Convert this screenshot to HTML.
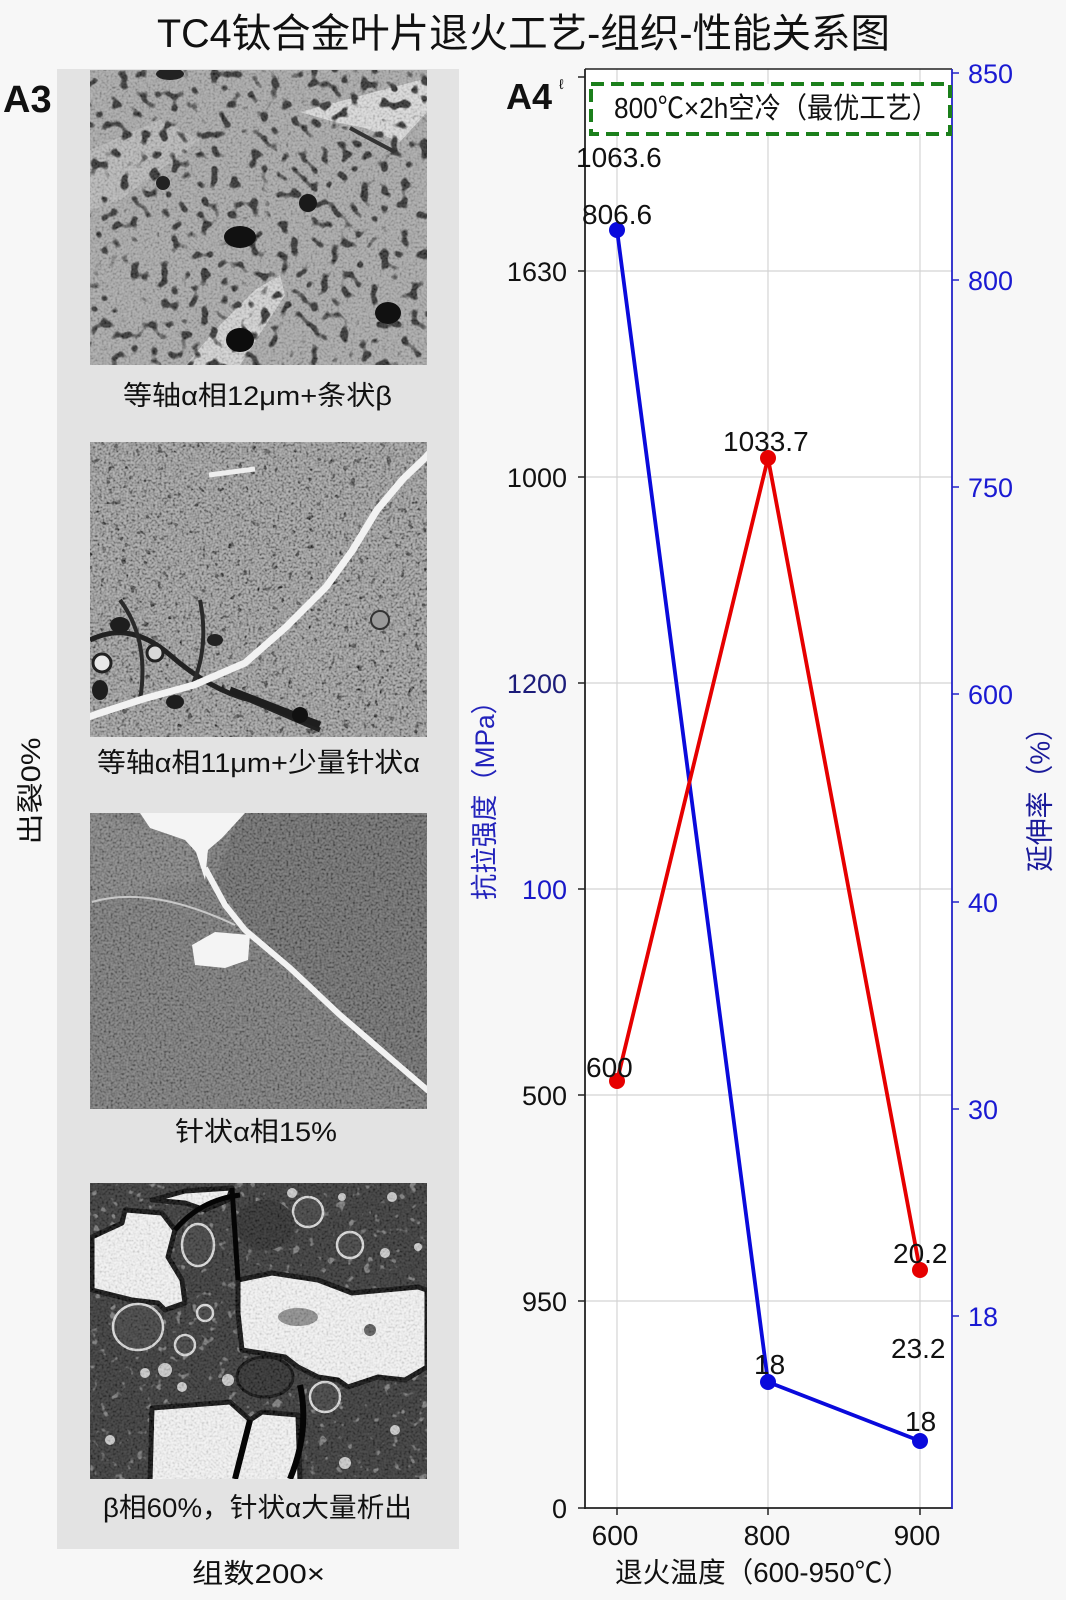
<!DOCTYPE html>
<html><head><meta charset="utf-8">
<style>html,body{margin:0;padding:0;background:#f7f7f7;}svg{display:block}</style>
</head>
<body>
<svg width="1066" height="1600" viewBox="0 0 1066 1600" xmlns="http://www.w3.org/2000/svg" font-family="'Liberation Sans','Noto Sans CJK SC',sans-serif">
<defs>
  <filter id="dots1" x="0" y="0" width="100%" height="100%">
    <feTurbulence type="fractalNoise" baseFrequency="0.1" numOctaves="1" seed="3" result="n"/>
    <feColorMatrix in="n" type="matrix" values="0 0 0 0 0  0 0 0 0 0  0 0 0 0 0  1 0 0 0 0" result="a"/>
    <feComponentTransfer in="a" result="t"><feFuncA type="linear" slope="10" intercept="-5.7"/></feComponentTransfer>
    <feFlood flood-color="#252525"/>
    <feComposite in2="t" operator="in"/>
  </filter>
  <filter id="dots2" x="0" y="0" width="100%" height="100%">
    <feTurbulence type="fractalNoise" baseFrequency="0.14" numOctaves="2" seed="8" result="n"/>
    <feColorMatrix in="n" type="matrix" values="0 0 0 0 0  0 0 0 0 0  0 0 0 0 0  1 0 0 0 0" result="a"/>
    <feComponentTransfer in="a" result="t"><feFuncA type="linear" slope="10" intercept="-6.6"/></feComponentTransfer>
    <feFlood flood-color="#262626"/>
    <feComposite in2="t" operator="in"/>
  </filter>
  <filter id="dots4" x="0" y="0" width="100%" height="100%">
    <feTurbulence type="fractalNoise" baseFrequency="0.11" numOctaves="2" seed="12" result="n"/>
    <feColorMatrix in="n" type="matrix" values="0 0 0 0 0  0 0 0 0 0  0 0 0 0 0  1 0 0 0 0" result="a"/>
    <feComponentTransfer in="a" result="t"><feFuncA type="linear" slope="10" intercept="-6.5"/></feComponentTransfer>
    <feFlood flood-color="#d0d0d0"/>
    <feComposite in2="t" operator="in"/>
  </filter>
  <filter id="spk" x="0" y="0" width="100%" height="100%">
    <feTurbulence type="fractalNoise" baseFrequency="0.45" numOctaves="1" seed="5"/>
    <feColorMatrix type="matrix" values="2.2 0 0 0 -0.6  2.2 0 0 0 -0.6  2.2 0 0 0 -0.6  0 0 0 0 1"/>
  </filter>
  <clipPath id="c1"><rect x="90" y="70" width="337" height="295"/></clipPath>
  <clipPath id="c2"><rect x="90" y="442" width="337" height="295"/></clipPath>
  <clipPath id="c3"><rect x="90" y="813" width="337" height="296"/></clipPath>
  <clipPath id="c4"><rect x="90" y="1183" width="337" height="296"/></clipPath>
</defs>

<rect width="1066" height="1600" fill="#f7f7f7"/>

<!-- Title -->
<text x="157" y="47" font-size="40" textLength="733" lengthAdjust="spacingAndGlyphs" fill="#111">TC4钛合金叶片退火工艺-组织-性能关系图</text>

<!-- A3 -->
<text x="3" y="112" font-size="38" font-weight="bold" fill="#111">A3</text>

<!-- left rotated text -->
<text transform="translate(31,791) rotate(-90)" text-anchor="middle" dominant-baseline="central" font-size="27" textLength="107" lengthAdjust="spacingAndGlyphs" fill="#111">出裂0%</text>

<!-- gray panel -->
<rect x="57" y="69" width="402" height="1480" fill="#e3e3e3"/>

<!-- Image 1 -->
<g clip-path="url(#c1)">
  <rect x="90" y="70" width="337" height="295" fill="#a4a4a4"/>
  <polygon points="300,112 427,78 427,112 400,142 365,128 335,122" fill="#d8d8d8"/>
  <polygon points="186,365 240,365 285,295 280,275 255,290 215,330" fill="#d0d0d0"/>
  <polygon points="90,150 160,120 200,140 120,200 90,210" fill="#b4b4b4"/>
  <rect x="90" y="70" width="337" height="295" filter="url(#dots1)"/>
  <rect x="90" y="70" width="337" height="295" filter="url(#spk)" opacity="0.18"/>
  <ellipse cx="240" cy="237" rx="16" ry="11" fill="#111"/>
  <circle cx="308" cy="203" r="9" fill="#1a1a1a"/>
  <ellipse cx="388" cy="313" rx="13" ry="11" fill="#111"/>
  <ellipse cx="240" cy="340" rx="14" ry="12" fill="#0d0d0d"/>
  <circle cx="163" cy="183" r="7" fill="#222"/>
  <ellipse cx="170" cy="74" rx="14" ry="6" fill="#222"/>
  <path d="M350,128 Q372,140 395,152" stroke="#333" stroke-width="4" fill="none"/>
</g>
<text x="123" y="405" font-size="27" textLength="269" lengthAdjust="spacingAndGlyphs" fill="#111">等轴α相12μm+条状β</text>

<!-- Image 2 -->
<g clip-path="url(#c2)">
  <rect x="90" y="442" width="337" height="295" fill="#8f8f8f"/>
  <rect x="90" y="442" width="337" height="295" filter="url(#dots2)"/>
  <rect x="90" y="442" width="337" height="295" filter="url(#spk)" opacity="0.35"/>
  <path d="M90,640 Q130,620 170,655 T250,700 L320,730" stroke="#222" stroke-width="5" fill="none"/>
  <path d="M120,600 Q150,640 140,700" stroke="#2a2a2a" stroke-width="4" fill="none"/>
  <path d="M200,600 Q210,650 190,690" stroke="#2a2a2a" stroke-width="4" fill="none"/>
  <path d="M230,690 L320,725" stroke="#1e1e1e" stroke-width="7" fill="none"/>
  <ellipse cx="120" cy="625" rx="10" ry="8" fill="#1e1e1e"/>
  <ellipse cx="175" cy="702" rx="9" ry="7" fill="#1e1e1e"/>
  <ellipse cx="215" cy="640" rx="8" ry="6" fill="#222"/>
  <ellipse cx="100" cy="690" rx="8" ry="10" fill="#1e1e1e"/>
  <circle cx="102" cy="663" r="9" fill="#e8e8e8" stroke="#222" stroke-width="3"/>
  <circle cx="155" cy="653" r="8" fill="#d8d8d8" stroke="#222" stroke-width="3"/>
  <circle cx="380" cy="620" r="9" fill="#9a9a9a" stroke="#333" stroke-width="2"/>
  <circle cx="300" cy="715" r="8" fill="#111"/>
  <path d="M432,450 L426,457 403,479 377,510 352,551 326,587 286,627 245,663 194,685 143,699 97,714 86,718" stroke="#f2f2f2" stroke-width="7" fill="none" stroke-linejoin="round"/>
  <path d="M209,475 L255,469" stroke="#eee" stroke-width="5"/>
</g>
<text x="97" y="772" font-size="27" textLength="323" lengthAdjust="spacingAndGlyphs" fill="#111">等轴α相11μm+少量针状α</text>

<!-- Image 3 -->
<g clip-path="url(#c3)">
  <rect x="90" y="813" width="337" height="296" fill="#6a6a6a"/>
  <polygon points="240,813 427,813 427,1100 380,1055 300,975 245,925 215,880" fill="#5c5c5c"/>
  <polygon points="90,813 150,828 190,845 200,880 92,902" fill="#747474"/>
  <rect x="90" y="813" width="337" height="296" filter="url(#spk)" opacity="0.25"/>
  <polygon points="140,813 245,813 222,838 208,850 205,880 196,852 185,840 150,828" fill="#f4f4f4"/>
  <path d="M205,868 L225,905 L245,930 L290,968 L340,1015 L390,1058 L432,1094" stroke="#f2f2f2" stroke-width="6" fill="none" stroke-linejoin="round"/>
  <polygon points="192,945 215,932 250,935 248,960 225,968 195,965" fill="#f4f4f4"/>
  <path d="M92,902 Q150,885 235,925" stroke="#c8c8c8" stroke-width="2" fill="none"/>
</g>
<text x="175" y="1141" font-size="27" textLength="162" lengthAdjust="spacingAndGlyphs" fill="#111">针状α相15%</text>

<!-- Image 4 -->
<g clip-path="url(#c4)">
  <rect x="90" y="1183" width="337" height="296" fill="#303030"/>
  <rect x="90" y="1183" width="337" height="296" filter="url(#dots4)" opacity="0.45"/>
  <g fill="#f3f3f3" stroke="#050505" stroke-width="5" stroke-linejoin="round">
    <polygon points="125,1210 162,1213 175,1230 168,1257 182,1280 185,1303 165,1310 158,1303 132,1300 92,1290 92,1237 122,1223"/>
    <polygon points="238,1280 272,1273 318,1280 352,1293 418,1287 427,1290 427,1367 405,1380 378,1377 348,1387 338,1380 318,1377 298,1367 285,1357 242,1350 238,1313"/>
    <polygon points="152,1408 230,1402 250,1420 262,1412 298,1415 300,1482 150,1482"/>
    <polygon points="152,1200 185,1203 205,1210 228,1200 232,1188 185,1191"/>
  </g>
  <ellipse cx="298" cy="1317" rx="20" ry="9" fill="#8a8a8a"/>
  <circle cx="370" cy="1330" r="6" fill="#555"/>
  <g fill="#3a3a3a" stroke="#d8d8d8" stroke-width="2.5">
    <ellipse cx="138" cy="1327" rx="25" ry="23"/>
    <circle cx="308" cy="1212" r="15"/>
    <ellipse cx="198" cy="1245" rx="16" ry="21"/>
    <circle cx="185" cy="1345" r="10"/>
    <circle cx="205" cy="1313" r="8"/>
    <circle cx="325" cy="1397" r="15"/>
    <circle cx="350" cy="1245" r="13"/>
  </g>
  <ellipse cx="265" cy="1377" rx="28" ry="20" fill="#262626" stroke="#050505" stroke-width="3"/>
  <ellipse cx="265" cy="1225" rx="30" ry="25" fill="#262626"/>
  <g fill="#c8c8c8">
    <circle cx="165" cy="1370" r="7"/><circle cx="145" cy="1373" r="5"/>
    <circle cx="182" cy="1387" r="5"/><circle cx="228" cy="1380" r="6"/>
    <circle cx="292" cy="1193" r="5"/><circle cx="342" cy="1197" r="4"/>
    <circle cx="392" cy="1197" r="5"/><circle cx="385" cy="1253" r="5"/>
    <circle cx="418" cy="1247" r="4"/><circle cx="345" cy="1463" r="6"/>
    <circle cx="110" cy="1440" r="5"/><circle cx="395" cy="1430" r="5"/>
  </g>
  <rect x="90" y="1183" width="337" height="296" filter="url(#spk)" opacity="0.15"/>
  <path d="M300,1385 Q310,1430 290,1479 M250,1420 L235,1479" stroke="#050505" stroke-width="6" fill="none"/>
  <path d="M232,1188 L238,1280 M175,1230 Q200,1200 240,1195" stroke="#050505" stroke-width="5" fill="none"/>
</g>
<text x="103" y="1517" font-size="27" textLength="309" lengthAdjust="spacingAndGlyphs" fill="#111">β相60%，针状α大量析出</text>
<text x="192" y="1583" font-size="27" textLength="133" lengthAdjust="spacingAndGlyphs" fill="#111">组数200×</text>

<!-- Chart -->
<rect x="585" y="69" width="367" height="1439" fill="#ffffff"/>
<g stroke="#d4d4d4" stroke-width="1.2">
  <line x1="617" y1="69" x2="617" y2="1508"/>
  <line x1="768" y1="69" x2="768" y2="1508"/>
  <line x1="920" y1="69" x2="920" y2="1508"/>
  <line x1="585" y1="271" x2="952" y2="271"/>
  <line x1="585" y1="477" x2="952" y2="477"/>
  <line x1="585" y1="683" x2="952" y2="683"/>
  <line x1="585" y1="889" x2="952" y2="889"/>
  <line x1="585" y1="1095" x2="952" y2="1095"/>
  <line x1="585" y1="1301" x2="952" y2="1301"/>
</g>
<line x1="585" y1="69" x2="952" y2="69" stroke="#222" stroke-width="1.5"/>
<line x1="585" y1="69" x2="585" y2="1509" stroke="#222" stroke-width="1.8"/>
<line x1="584" y1="1508" x2="952" y2="1508" stroke="#222" stroke-width="1.8"/>
<line x1="952" y1="69" x2="952" y2="1509" stroke="#2424c8" stroke-width="1.8"/>
<g stroke="#222" stroke-width="1.5">
  <line x1="578" y1="77" x2="585" y2="77"/>
  <line x1="578" y1="271" x2="585" y2="271"/>
  <line x1="578" y1="477" x2="585" y2="477"/>
  <line x1="578" y1="683" x2="585" y2="683"/>
  <line x1="578" y1="889" x2="585" y2="889"/>
  <line x1="578" y1="1095" x2="585" y2="1095"/>
  <line x1="578" y1="1301" x2="585" y2="1301"/>
  <line x1="578" y1="1508" x2="585" y2="1508"/>
  <line x1="617" y1="1508" x2="617" y2="1515"/>
  <line x1="768" y1="1508" x2="768" y2="1515"/>
  <line x1="920" y1="1508" x2="920" y2="1515"/>
</g>
<g stroke="#2424c8" stroke-width="1.5">
  <line x1="952" y1="73" x2="959" y2="73"/>
  <line x1="952" y1="280" x2="959" y2="280"/>
  <line x1="952" y1="487" x2="959" y2="487"/>
  <line x1="952" y1="694" x2="959" y2="694"/>
  <line x1="952" y1="902" x2="959" y2="902"/>
  <line x1="952" y1="1109" x2="959" y2="1109"/>
  <line x1="952" y1="1316" x2="959" y2="1316"/>
</g>

<!-- left tick labels -->
<g font-size="27" text-anchor="end">
  <text x="567" y="281" fill="#111">1630</text>
  <text x="567" y="487" fill="#111">1000</text>
  <text x="567" y="693" fill="#1c1c7a">1200</text>
  <text x="567" y="899" fill="#1818c8">100</text>
  <text x="567" y="1105" fill="#111">500</text>
  <text x="567" y="1311" fill="#111">950</text>
  <text x="567" y="1518" fill="#111">0</text>
</g>
<!-- right tick labels -->
<g font-size="27" fill="#1a1ad2">
  <text x="968" y="83">850</text>
  <text x="968" y="290">800</text>
  <text x="968" y="497">750</text>
  <text x="968" y="704">600</text>
  <text x="968" y="912">40</text>
  <text x="968" y="1119">30</text>
  <text x="968" y="1326">18</text>
</g>
<!-- x tick labels -->
<g font-size="28" text-anchor="middle" fill="#111">
  <text x="615" y="1545">600</text>
  <text x="767" y="1545">800</text>
  <text x="917" y="1545">900</text>
</g>
<text x="615" y="1582" font-size="28" textLength="295" lengthAdjust="spacingAndGlyphs" fill="#111">退火温度（600-950℃）</text>

<!-- axis titles -->
<text transform="translate(485,794) rotate(-90)" text-anchor="middle" dominant-baseline="central" font-size="27" textLength="212" lengthAdjust="spacingAndGlyphs" fill="#2222bb">抗拉强度（MPa）</text>
<text transform="translate(1040,793) rotate(-90)" text-anchor="middle" dominant-baseline="central" font-size="28" textLength="158" lengthAdjust="spacingAndGlyphs" fill="#1a1a9a">延伸率（%）</text>

<!-- A4 -->
<text x="506" y="109" font-size="36" font-weight="bold" fill="#111">A4</text>
<text x="559" y="89" font-size="14" fill="#111">ℓ</text>

<!-- green box -->
<rect x="591" y="84" width="359" height="50" fill="#ffffff" stroke="#1b7f1b" stroke-width="4" stroke-dasharray="13 7"/>
<text x="614" y="118" font-size="29" textLength="324" lengthAdjust="spacingAndGlyphs" fill="#111">800℃×2h空冷（最优工艺）</text>

<!-- series -->
<polyline points="617,230 768,1382 920,1441" fill="none" stroke="#0a0adc" stroke-width="3.8" stroke-linejoin="round"/>
<polyline points="617,1081 768,458 920,1270" fill="none" stroke="#e60000" stroke-width="3.8" stroke-linejoin="round"/>
<g fill="#e60000">
  <circle cx="617" cy="1081" r="8"/><circle cx="768" cy="458" r="8"/><circle cx="920" cy="1270" r="8"/>
</g>
<g fill="#0a0adc">
  <circle cx="617" cy="230" r="8"/><circle cx="768" cy="1382" r="8"/><circle cx="920" cy="1441" r="8"/>
</g>

<!-- annotations -->
<g font-size="28" fill="#111">
  <text x="576" y="167">1063.6</text>
  <text x="582" y="224">806.6</text>
  <text x="723" y="451">1033.7</text>
  <text x="586" y="1077">600</text>
  <text x="893" y="1263">20.2</text>
  <text x="891" y="1358">23.2</text>
  <text x="754" y="1374">18</text>
  <text x="905" y="1431">18</text>
</g>
</svg>
</body>
</html>
